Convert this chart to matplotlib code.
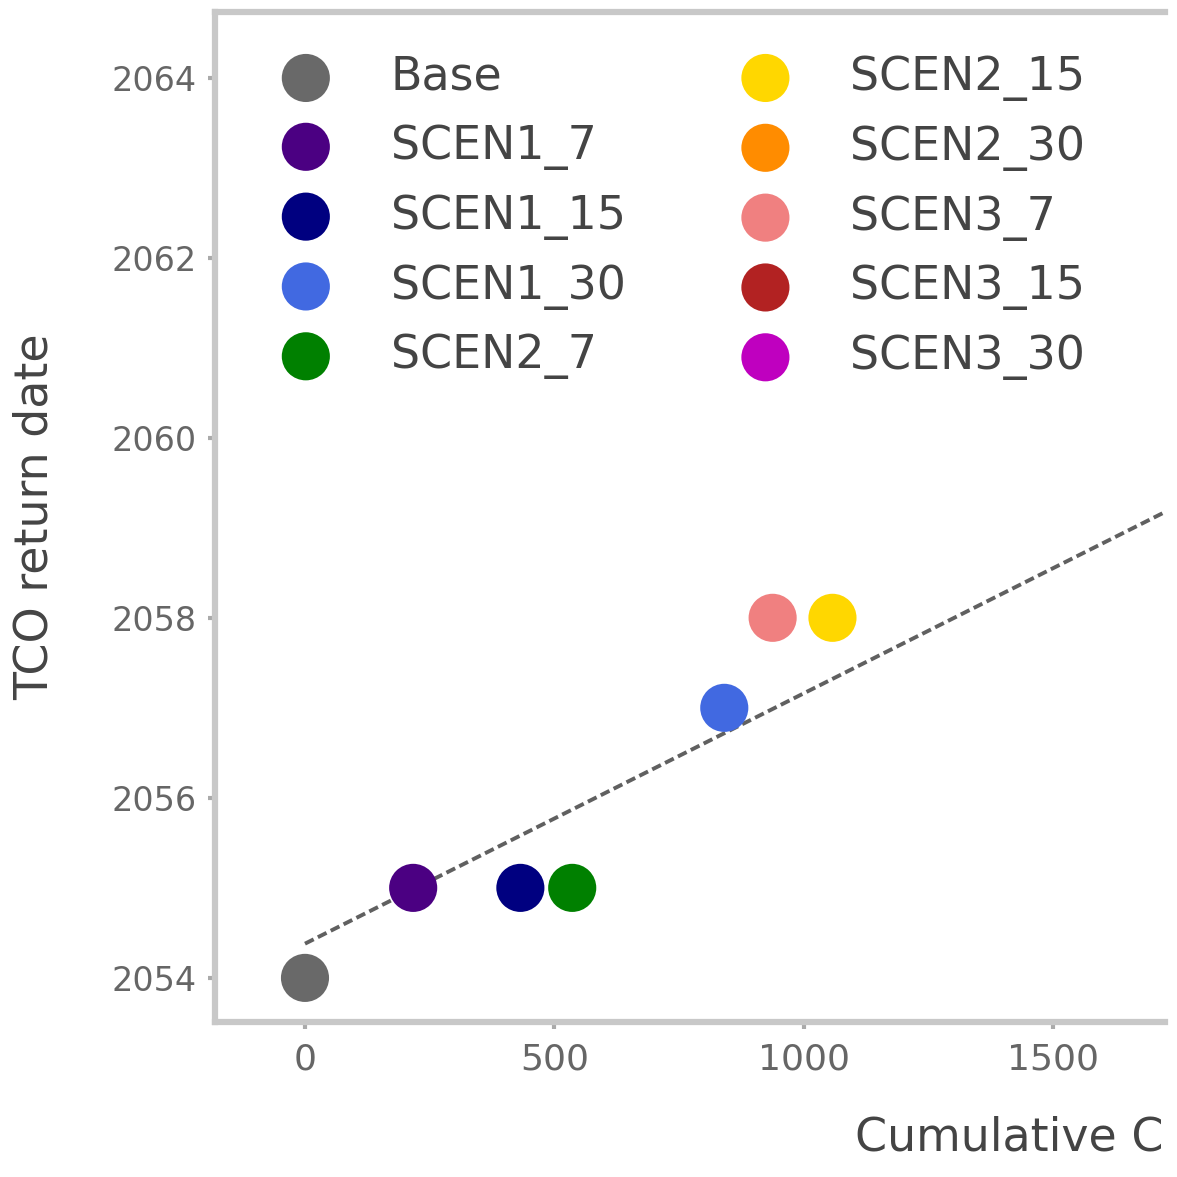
import numpy as np
import matplotlib
matplotlib.use("Agg")
import matplotlib.pyplot as plt

# ==========================================
# DATA
# ==========================================
SCENARIOS = ['Base', 'SCEN1_7', 'SCEN1_15', 'SCEN1_30', 'SCEN2_7',
             'SCEN2_15', 'SCEN2_30', 'SCEN3_7', 'SCEN3_15', 'SCEN3_30']
# cumulative emissions; points outside the visible crop are unknown
CUM_C = [0, 217, 432, 841, 536, 1058, np.nan, 938, np.nan, np.nan]
TCO_RETURN = [2054, 2055, 2055, 2057, 2055, 2058, np.nan, 2058, np.nan, np.nan]
COLORS = ['dimgray', 'indigo', 'navy', 'royalblue', 'green',
          'gold', 'darkorange', 'lightcoral', 'firebrick', 'm']

# linear fit shown as dashed line
FIT_INTERCEPT = 2054.38
FIT_SLOPE = 0.00278

X_TICKS = [0, 500, 1000, 1500]
Y_TICKS = [2054, 2056, 2058, 2060, 2062, 2064]

# ==========================================
# FIGURE
# ==========================================
W, H = 1177, 1177
fig = plt.figure(figsize=(W / 100, H / 100), dpi=100)
ax_l, ax_r, ax_t, ax_b = 215, 1165, 12, 1022
ax = fig.add_axes([ax_l / W, 1 - ax_b / H, (ax_r - ax_l) / W, (ax_b - ax_t) / H])

xmin, xmax = -180.5, 1725
ax.set_xlim(xmin, xmax)
ax.set_ylim(2053.51, 2064.73)

xs = np.array([0, xmax])
ax.plot(xs, FIT_INTERCEPT + FIT_SLOPE * xs, color='#606060', lw=2.8,
        dashes=(2.5, 1.2), zorder=2)

for name, x, y, c in zip(SCENARIOS, CUM_C, TCO_RETURN, COLORS):
    ax.scatter([x], [y], s=1200, color=c, edgecolors='none', label=name, zorder=3)

ax.set_xticks(X_TICKS)
ax.set_yticks(Y_TICKS)
ax.tick_params(axis='x', labelsize=26, colors='#aaaaaa', labelcolor='#666666',
               length=5, width=3, pad=10)
ax.tick_params(axis='y', labelsize=24, colors='#aaaaaa', labelcolor='#666666',
               length=5, width=3, pad=8)

for side in ['left', 'bottom', 'top']:
    ax.spines[side].set_color('#c8c8c8')
    ax.spines[side].set_linewidth(4.5)
ax.spines['right'].set_visible(False)

ax.set_ylabel('TCO return date', fontsize=33, color='#444444', va='center')
ax.yaxis.set_label_coords(-(ax_l - 35) / (ax_r - ax_l), 0.5)
ax.set_xlabel('Cumulative C', fontsize=33, color='#444444',
              ha='left', va='center')
ax.xaxis.set_label_coords((855 - ax_l) / (ax_r - ax_l), (ax_b - 1138) / (ax_b - ax_t))

leg = ax.legend(ncol=2, frameon=False, fontsize=33, loc='upper left',
                bbox_to_anchor=((260 - ax_l) / (ax_r - ax_l), (ax_b - 55) / (ax_b - ax_t)),
                borderpad=0, borderaxespad=0, handlelength=2.0, handletextpad=0.85,
                columnspacing=2.05, labelspacing=0.52)
for t in leg.get_texts():
    t.set_color('#444444')

fig.savefig('out.png', dpi=100)
